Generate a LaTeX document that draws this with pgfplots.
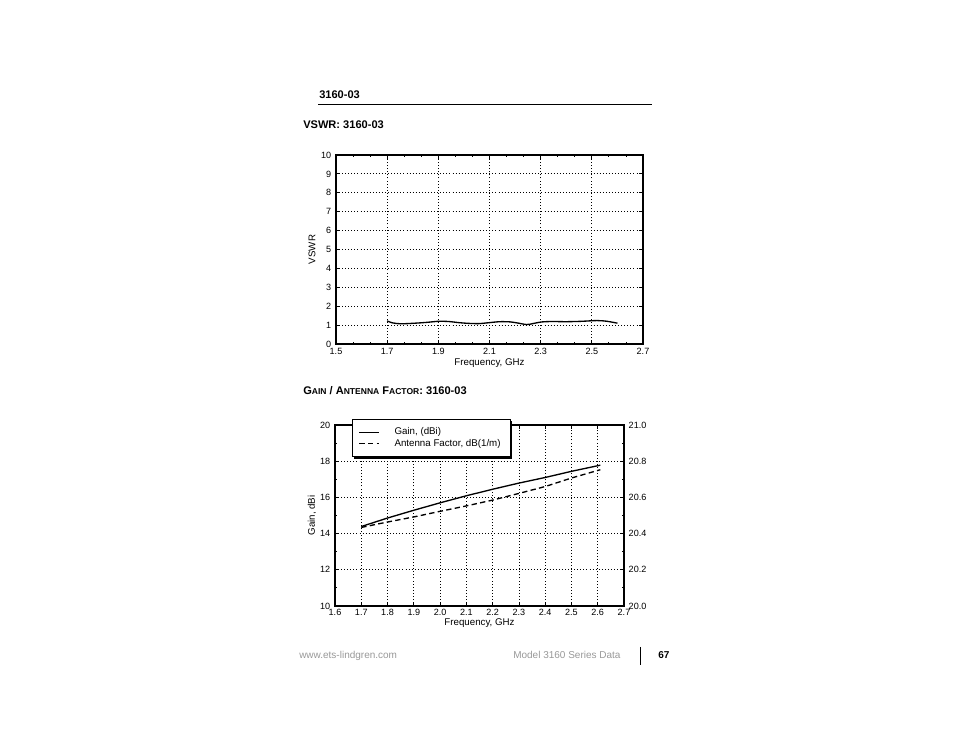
\documentclass[border=0pt]{standalone}
\usepackage{pgfplots}
\pgfplotsset{compat=1.18}
\usepackage{fontspec}
\setmainfont{Liberation Sans}

\pgfplotstableread{
f v
1.70 1.22
1.72 1.12
1.75 1.07
1.78 1.08
1.82 1.11
1.86 1.15
1.90 1.20
1.94 1.19
1.98 1.13
2.02 1.09
2.06 1.08
2.10 1.13
2.14 1.18
2.18 1.17
2.21 1.11
2.245 1.03
2.27 1.08
2.30 1.16
2.34 1.19
2.40 1.18
2.46 1.20
2.52 1.24
2.56 1.20
2.60 1.10
}\vswr

\pgfplotstableread{
f g
1.70 14.39
1.80 14.86
1.90 15.29
2.00 15.70
2.10 16.09
2.20 16.45
2.30 16.79
2.40 17.10
2.50 17.44
2.61 17.78
}\gain

\pgfplotstableread{
f af
1.70 20.434
1.80 20.464
1.90 20.492
2.00 20.523
2.10 20.553
2.20 20.585
2.30 20.622
2.40 20.660
2.50 20.707
2.61 20.753
}\afac

\newcommand{\tickfont}{\fontsize{6.8}{7}\selectfont}
\newcommand{\chartfont}{\fontsize{7.3}{8}\selectfont}
\newcommand{\pagefont}{\fontsize{8.3}{9}\selectfont}
\newcommand{\scfont}{\fontsize{6.4}{7}\selectfont}

\pgfplotsset{
  scanstyle/.style={
    scale only axis,
    axis line style={black, line width=0.8pt},
    tick align=inside,
    major tick length=3pt,
    minor tick length=1.8pt,
    every tick/.style={black, line width=0.6pt},
    tick label style={font=\tickfont},
    label style={font=\chartfont},
    /pgf/number format/assume math mode=true,
    major grid style={black, line width=0.6pt, dash pattern=on 0.7pt off 1.6pt},
  }
}

\begin{document}
\begin{tikzpicture}[x=0.75pt,y=0.75pt]
\path[fill=white] (0,0) rectangle (954,738);

% page text
\node[anchor=base west, inner sep=0, font=\pagefont\bfseries] at (319,639) {3160-03};
\draw[line width=0.75pt] (318,633) -- (652,633);
\node[anchor=base west, inner sep=0, font=\pagefont\bfseries] at (303,609.7) {VSWR: 3160-03};
\node[anchor=base west, inner sep=0, font=\pagefont\bfseries] at (303,343.7) {G{\scfont AIN} / A{\scfont NTENNA} F{\scfont ACTOR}: 3160-03};
\node[anchor=base west, inner sep=0, font=\fontsize{7.5}{8}\selectfont, text=black!40] at (299,79.4) {www.ets-lindgren.com};
\node[anchor=base west, inner sep=0, font=\fontsize{7.5}{8}\selectfont, text=black!40] at (513,79.4) {Model 3160 Series Data};
\draw[line width=0.75pt] (640,91) -- (640,73);
\node[anchor=base west, inner sep=0, font=\fontsize{7.5}{8}\selectfont\bfseries] at (658,79.4) {67};

% VSWR chart
\begin{axis}[scanstyle,
  at={(252pt,295.5pt)}, anchor=south west,
  width=230.25pt, height=141.75pt,
  xmin=1.5, xmax=2.7, ymin=0, ymax=10,
  xtick={1.5,1.7,1.9,2.1,2.3,2.5,2.7},
  ytick={0,1,2,3,4,5,6,7,8,9,10},
  minor x tick num=2,
  grid=major,
  xticklabel style={text height=4.9pt, text depth=0pt, yshift=0.3pt, /pgf/number format/.cd, fixed, fixed zerofill, precision=1},
  xlabel={Frequency, GHz}, ylabel={VSWR},
  xlabel style={at={(axis description cs:0.5,-0.112)}, anchor=base},
  ylabel style={at={(axis description cs:-0.078,0.5)}, anchor=center},
]
\draw[black, line width=1.4pt] (rel axis cs:0,1) -- (rel axis cs:1,1);
\addplot[black, line width=1pt, smooth, no marks] table[x=f, y=v] {\vswr};
\end{axis}

% Gain / AF chart (left axis)
\begin{axis}[scanstyle,
  at={(251.25pt,99pt)}, anchor=south west,
  width=216.75pt, height=135.75pt,
  xmin=1.6, xmax=2.7, ymin=10, ymax=20,
  xtick={1.6,1.7,1.8,1.9,2.0,2.1,2.2,2.3,2.4,2.5,2.6,2.7},
  ytick={10,12,14,16,18,20},
  ytick pos=left,
  minor y tick num=1,
  grid=major,
  xticklabel style={text height=4.9pt, text depth=0pt, yshift=1.2pt, /pgf/number format/.cd, fixed, fixed zerofill, precision=1},
  xlabel={Frequency, GHz}, ylabel={Gain, dBi},
  xlabel style={at={(axis description cs:0.5,-0.106)}, anchor=base},
  ylabel style={at={(axis description cs:-0.080,0.5)}, anchor=center},
]
\draw[black, line width=1.4pt] (rel axis cs:0,0) -- (rel axis cs:1,0);
\addplot[black, line width=1pt, no marks] table[x=f, y=g] {\gain};
\end{axis}

% right axis
\begin{axis}[scanstyle,
  at={(251.25pt,99pt)}, anchor=south west,
  width=216.75pt, height=135.75pt,
  xmin=1.6, xmax=2.7, ymin=20, ymax=21,
  axis x line=none,
  axis y line*=right,
  ytick={20,20.2,20.4,20.6,20.8,21},
  minor y tick num=1,
  yticklabel style={/pgf/number format/.cd, fixed, fixed zerofill, precision=1},
  legend style={name=gainleg, at={(axis description cs:0.058,1.033)}, anchor=north west,
    draw=black, line width=0.6pt, fill=white,
    font=\chartfont, inner xsep=5pt, inner ysep=4.2pt,
    row sep=-2pt,
    /tikz/every odd column/.append style={column sep=9pt}},
  legend cell align=left,
  legend image code/.code={\draw[#1, line width=0.8pt] (0pt,0pt) -- (15pt,0pt);},
]
\addlegendimage{black, solid}
\addlegendentry{Gain, (dBi)}
\addplot[black, line width=1pt, dash pattern=on 4pt off 2.5pt, no marks] table[x=f, y=af] {\afac};
\addlegendentry{Antenna Factor, dB(1/m)}
\end{axis}
% legend shadow
\fill[black] ([xshift=1.4pt]gainleg.south west) rectangle ([xshift=1.4pt,yshift=-1.4pt]gainleg.south east);
\fill[black] ([yshift=-1.4pt]gainleg.north east) rectangle ([xshift=1.4pt,yshift=-1.4pt]gainleg.south east);
\end{tikzpicture}
\end{document}
